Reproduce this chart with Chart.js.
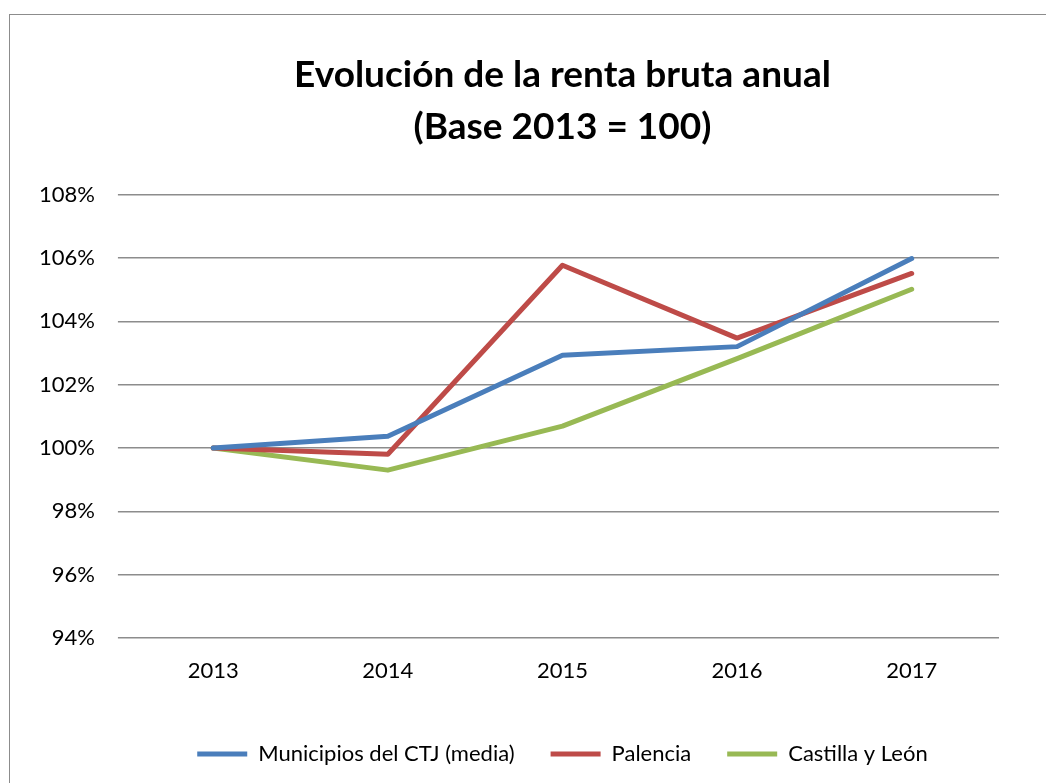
<!DOCTYPE html>
<html>
<head>
<meta charset="utf-8">
<script src="https://cdn.jsdelivr.net/npm/chart.js@4"></script>
<style>
  html, body { margin: 0; padding: 0; background: #fff; overflow: hidden; }
  #frame { position: absolute; left: 9px; top: 14px; width: 1100px; height: 800px; border: 1px solid #8c8c8c; }
  #wrap { position: absolute; left: 0; top: 0; width: 1046px; height: 783px; }
</style>
</head>
<body>
<div id="frame"></div>
<div id="wrap"><canvas id="chart" width="1046" height="783"></canvas></div>
<script>
// datos (base 2013 = 100)
const years = ['2013', '2014', '2015', '2016', '2017'];
const municipiosCTJ = [100, 100.37, 102.93, 103.2, 105.98];
const palencia = [100, 99.8, 105.77, 103.47, 105.51];
const castillaLeon = [100, 99.3, 100.69, 102.82, 105.01];

const FONT = "Lato, 'Open Sans', sans-serif";

function serie(label, data, color) {
  return {
    label,
    data,
    borderColor: color,
    backgroundColor: color,
    borderWidth: 5,
    borderCapStyle: 'round',
    borderJoinStyle: 'round',
    pointRadius: 0,
    pointHoverRadius: 0,
    tension: 0,
  };
}

new Chart(document.getElementById('chart'), {
  type: 'line',
  data: {
    labels: years,
    datasets: [
      serie('Municipios del CTJ (media)', municipiosCTJ, '#4a7ebb'),
      serie('Palencia', palencia, '#be4b48'),
      serie('Castilla y León', castillaLeon, '#98b954'),
    ]
  },
  options: {
    responsive: false,
    animation: false,
    layout: { padding: { left: 16, right: 47, top: 0, bottom: 8 } },
    plugins: {
      tooltip: { enabled: false },
      title: {
        display: true,
        fullSize: false,
        text: ['Evolución de la renta bruta anual', '(Base 2013 = 100)'],
        color: '#000',
        font: { family: FONT, size: 37, weight: 'bold', lineHeight: 1.4 },
        padding: { top: 49, bottom: 42 }
      },
      legend: {
        position: 'bottom',
        fullSize: false,
        labels: {
          color: '#000',
          font: { family: FONT, size: 22 },
          usePointStyle: true,
          pointStyle: 'line',
          pointStyleWidth: 50,
          boxHeight: 5,
          padding: 36
        }
      }
    },
    scales: {
      x: {
        offset: true,
        grid: { display: false, drawTicks: false },
        border: { display: false },
        ticks: { color: '#000', font: { family: FONT, size: 22 }, padding: 20 },
        afterFit: s => { s.height = 69; }
      },
      y: {
        min: 94,
        max: 108,
        grid: { color: '#8c8c8c', lineWidth: 1.5, drawTicks: true, tickLength: 8 },
        border: { display: false },
        ticks: {
          stepSize: 2,
          color: '#000',
          font: { family: FONT, size: 22 },
          padding: 23,
          callback: v => v + '%'
        }
      }
    }
  }
});
</script>
</body>
</html>
